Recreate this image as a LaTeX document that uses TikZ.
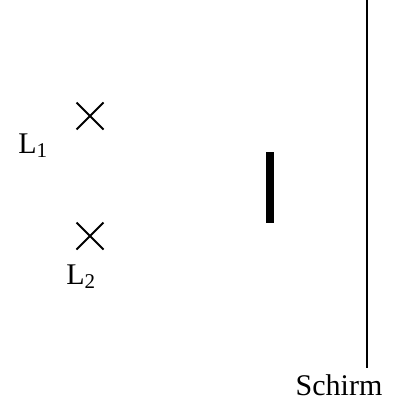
\documentclass[tikz,border=0pt]{standalone}
\usepackage{fontspec}
\setmainfont{Liberation Serif}
\usetikzlibrary{shapes.misc}
\tikzset{
  source/.style={cross out, draw, line width=1pt, minimum size=12.5pt, inner sep=0pt},
  lbl/.style={inner sep=0pt, font=\fontsize{15}{18}\selectfont},
}
\begin{document}
\begin{tikzpicture}[x=0.5pt, y=-0.5pt]
    \useasboundingbox (0,0) rectangle (392,401);
    % Lichtquellen
    \node[source] (l1) at (90,116) {};
    \node[source] (l2) at (90,236) {};
    \node[lbl, anchor=base west] (n1) at (18,153) {L\textsubscript{1}};
    \node[lbl, anchor=base west] (n2) at (66,284) {L\textsubscript{2}};
    % Hindernis
    \node[fill, inner sep=0pt, minimum width=4pt, minimum height=35.5pt] (bar) at (270,187.5) {};
    % Schirm
    \coordinate (top) at (366.5,0);
    \coordinate (bot) at (366.5,368);
    \draw[line width=1pt] (top) -- (bot);
    \node[lbl, anchor=base] (schirm) at (339,395) {Schirm};
\end{tikzpicture}
\end{document}
